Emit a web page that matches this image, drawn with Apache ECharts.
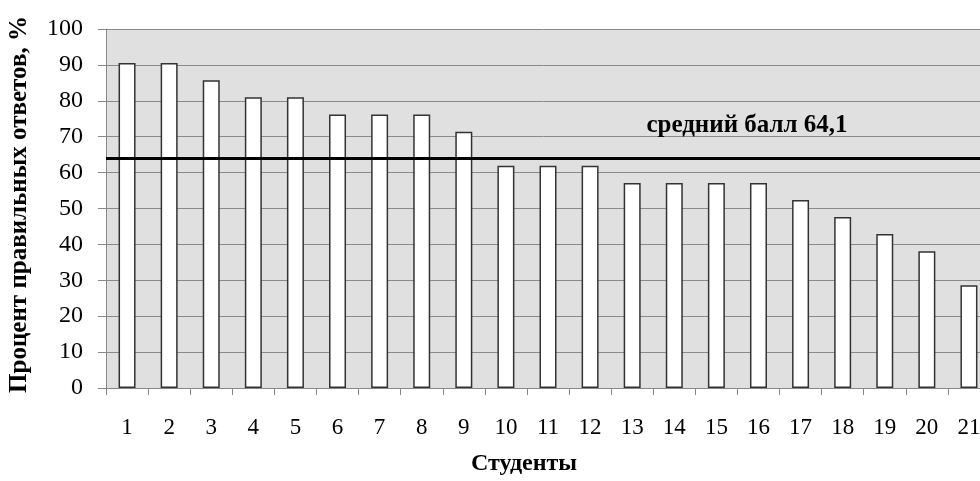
<!DOCTYPE html>
<html><head><meta charset="utf-8">
<script src="https://cdn.jsdelivr.net/npm/echarts@6/dist/echarts.min.js"></script>
<style>html,body{margin:0;padding:0;background:#fff}#c{width:980px;height:481px}</style>
</head><body><div id="c"></div>
<script>
const students = ['1','2','3','4','5','6','7','8','9','10','11','12','13','14','15','16','17','18','19','20','21'];
const percents = [90.5,90.5,85.7,81.0,81.0,76.2,76.2,76.2,71.4,61.9,61.9,61.9,57.1,57.1,57.1,57.1,52.4,47.6,42.9,38.1,28.6];
const meanScore = 64.1;
const meanLabel = 'средний балл 64,1';
const yTitle = 'Процент правильных ответов, %';
const xTitle = 'Студенты';
const FONT = '"Liberation Serif","Times New Roman",serif';

const chart = echarts.init(document.getElementById('c'));
chart.setOption({
  animation: false,
  backgroundColor: '#fff',
  grid: {left: 106, top: 29, bottom: 93, right: -10, containLabel: false, outerBoundsMode: 'none',
         show: true, backgroundColor: '#e0e0e0', borderWidth: 0},
  xAxis: {
    type: 'category', data: students,
    name: xTitle, nameLocation: 'middle', nameGap: 64,
    nameTextStyle: {fontFamily: FONT, fontWeight: 'bold', fontSize: 24, color: '#000', padding: [0, 48, 0, 0]},
    axisLine: {lineStyle: {color: '#888', width: 1}},
    axisTick: {show: true, alignWithLabel: false, length: 7, lineStyle: {color: '#888'}},
    axisLabel: {fontFamily: FONT, fontSize: 23, color: '#000', margin: 28}
  },
  yAxis: {
    type: 'value', min: 0, max: 100, interval: 10,
    name: yTitle, nameLocation: 'middle', nameGap: 74, nameRotate: 90,
    nameTextStyle: {fontFamily: FONT, fontWeight: 'bold', fontSize: 25, color: '#000', padding: [0, 0, 0, 8]},
    axisLine: {show: true, lineStyle: {color: '#888', width: 1}},
    axisTick: {show: true, length: 8, lineStyle: {color: '#888'}},
    axisLabel: {fontFamily: FONT, fontSize: 24, color: '#000', margin: 23},
    splitLine: {lineStyle: {color: '#8a8a8a', width: 1}}
  },
  series: [{
    type: 'bar', data: percents, barWidth: 17,
    itemStyle: {color: '#fff', borderColor: '#333', borderWidth: 1.5},
    markLine: {
      silent: true, symbol: 'none', z: 10,
      lineStyle: {color: '#000', width: 3, type: 'solid'},
      label: {show: false},
      data: [{yAxis: meanScore}]
    }
  }],
  graphic: [{
    type: 'text', x: 747, y: 126, z: 20,
    style: {text: meanLabel, fontFamily: FONT, fontWeight: 'bold', fontSize: 25, fill: '#000',
            align: 'center', verticalAlign: 'middle'}
  }]
});
</script></body></html>
